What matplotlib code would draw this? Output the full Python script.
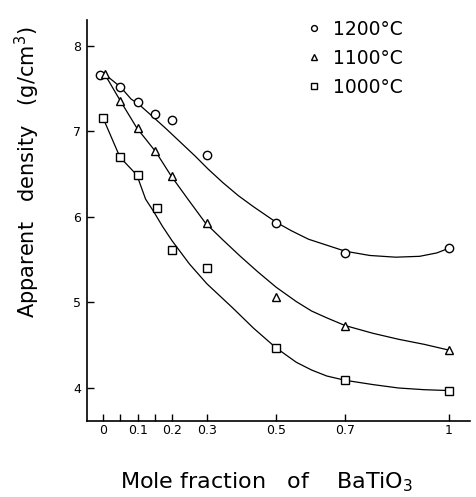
import matplotlib
matplotlib.use("Agg")
import matplotlib.pyplot as plt

# ---- data ----
x_1200 = [-0.01, 0.05, 0.10, 0.15, 0.20, 0.30, 0.50, 0.70, 1.00]
y_1200 = [7.66, 7.52, 7.34, 7.21, 7.14, 6.72, 5.93, 5.58, 5.64]

x_1100 = [0.005, 0.05, 0.10, 0.15, 0.20, 0.30, 0.50, 0.70, 1.00]
y_1100 = [7.67, 7.36, 7.04, 6.77, 6.48, 5.93, 5.06, 4.73, 4.44]

x_1000 = [0.0, 0.05, 0.10, 0.155, 0.20, 0.30, 0.50, 0.70, 1.00]
y_1000 = [7.16, 6.70, 6.49, 6.10, 5.61, 5.40, 4.47, 4.09, 3.97]

# hand-drawn trend curves
cx_1200 = [0.005, 0.051, 0.081, 0.103, 0.142, 0.183, 0.225, 0.267, 0.304, 0.347, 0.391, 0.435,
           0.50, 0.544, 0.594, 0.647, 0.70, 0.771, 0.846, 0.915, 0.965, 1.003]
cy_1200 = [7.67, 7.52, 7.38, 7.32, 7.18, 7.03, 6.87, 6.71, 6.56, 6.40, 6.25, 6.12,
           5.94, 5.84, 5.74, 5.67, 5.60, 5.55, 5.53, 5.54, 5.58, 5.64]

cx_1100 = [0.005, 0.05, 0.098, 0.153, 0.197, 0.247, 0.296, 0.347, 0.397, 0.447, 0.50,
           0.559, 0.603, 0.647, 0.70, 0.78, 0.854, 0.929, 1.003]
cy_1100 = [7.67, 7.36, 7.04, 6.76, 6.48, 6.20, 5.93, 5.73, 5.54, 5.36, 5.18,
           5.01, 4.90, 4.82, 4.73, 4.64, 4.57, 4.51, 4.44]

cx_1000 = [0.0, 0.049, 0.098, 0.123, 0.147, 0.172, 0.20, 0.25, 0.30, 0.374, 0.435, 0.50,
           0.559, 0.603, 0.647, 0.70, 0.78, 0.854, 0.929, 1.0]
cy_1000 = [7.16, 6.70, 6.49, 6.21, 6.06, 5.89, 5.72, 5.45, 5.22, 4.94, 4.70, 4.47,
           4.30, 4.21, 4.14, 4.09, 4.04, 4.00, 3.98, 3.97]

labels = ["1200°C", "1100°C", "1000°C"]
xticks = [0, 0.1, 0.2, 0.3, 0.5, 0.7, 1]
xticklabels = ["0", "0.1", "0.2", "0.3", "0.5", "0.7", "1"]
xminor = [0.05, 0.15]
yticks = [4, 5, 6, 7, 8]

plt.rcParams['font.family'] = ['DejaVu Sans']

fig = plt.figure(figsize=(4.77, 4.97), dpi=100)
ax = fig.add_axes([87 / 477, 76 / 497, 383 / 477, 401 / 497])

for cx, cy in [(cx_1200, cy_1200), (cx_1100, cy_1100), (cx_1000, cy_1000)]:
    ax.plot(cx, cy, color='black', lw=0.9, zorder=2, solid_joinstyle='round')

mk = dict(linestyle='none', markerfacecolor='white', markeredgecolor='black',
          markeredgewidth=1.0, zorder=3)
ax.plot(x_1200, y_1200, marker='o', markersize=6, label=labels[0], **mk)
ax.plot(x_1100, y_1100, marker='^', markersize=6, label=labels[1], **mk)
ax.plot(x_1000, y_1000, marker='s', markersize=5.5, label=labels[2], **mk)

ax.set_xlim(-0.0462, 1.0607)
ax.set_ylim(3.614, 8.304)

for s in ['top', 'right']:
    ax.spines[s].set_visible(False)
for s in ['left', 'bottom']:
    ax.spines[s].set_linewidth(1.2)

ax.set_xticks(xticks)
ax.set_xticklabels(xticklabels)
ax.set_xticks(xminor, minor=True)
ax.set_yticks(yticks)
ax.tick_params(axis='both', which='both', direction='in', length=5, width=1.0,
               labelsize=9, colors='black')
ax.tick_params(axis='x', pad=2)
ax.tick_params(axis='y', pad=4)

ax.set_ylabel("Apparent   density   (g/cm$^3$)", fontsize=15)
ax.yaxis.set_label_coords(-0.117, 0.62)
ax.set_xlabel("Mole fraction   of    BaTiO$_3$", fontsize=16)
ax.xaxis.set_label_coords(0.469, -0.122)

leg = ax.legend(loc='upper left', bbox_to_anchor=(0.573, 1.0), frameon=False,
                fontsize=13.5, handlelength=0.8, handletextpad=0.6,
                labelspacing=0.53, borderpad=0, borderaxespad=0, markerscale=0.7)

fig.savefig("out.png", dpi=100)
